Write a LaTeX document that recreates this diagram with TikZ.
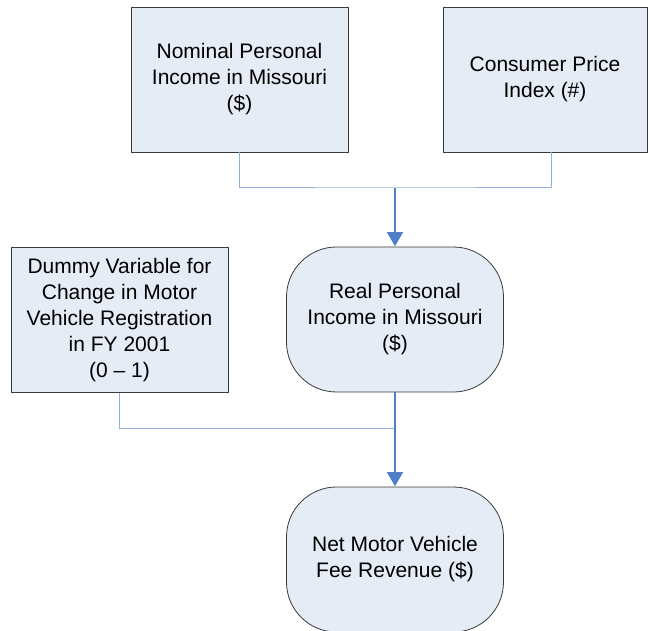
\documentclass[tikz,border=0pt]{standalone}
\usepackage{fontspec}
\setmainfont{Liberation Sans}
\usetikzlibrary{arrows.meta}
\definecolor{boxfill}{HTML}{E6ECF6}
\definecolor{boxline}{HTML}{3A3A3A}
\definecolor{feedline}{HTML}{8FB0DC}
\definecolor{flowline}{HTML}{4F7FC6}
\tikzset{
  txt/.style={font=\fontsize{21}{26}\selectfont, align=center, text=black},
  databox/.style={txt, draw=boxline, line width=0.8pt, fill=boxfill,
    minimum width=217pt, minimum height=145pt, inner sep=0pt},
  calcbox/.style={databox, rounded corners=50pt},
  feed/.style={draw=feedline, line width=1pt},
  flow/.style={draw=flowline, line width=1.2pt,
    -{Triangle[width=16pt,length=14pt]}, shorten >=0.4pt},
}
\begin{document}
\begin{tikzpicture}[x=1pt, y=-1pt]
\useasboundingbox (0,0) rectangle (648,631);

% input variables
\node[databox] (nominal) at (239.5,79.5) {Nominal Personal\\Income in Missouri\\(\$)};
\node[databox, minimum width=204pt] (cpi) at (545,79.5) {Consumer Price\\Index (\#)};
\node[databox] (dummy) at (119.5,320) {Dummy Variable for\\Change in Motor\\Vehicle Registration\\in FY 2001\\(0 -- 1)};

% derived quantities
\node[calcbox] (real) at (395,319.5) {Real Personal\\Income in Missouri\\(\$)};
\node[calcbox] (net) at (395,559.5) {Net Motor Vehicle\\Fee Revenue (\$)};

% junction points
\coordinate (j1) at (395,188);
\coordinate (j2) at (395,428);

% nominal income and CPI combine into real income
\draw[feed] (nominal.south) |- (j1) -| (cpi.south -| 551,0);
\draw[flow] (j1) -- (real.north);

% real income and dummy combine into fee revenue
\draw[feed] (dummy.south) |- (j2);
\draw[flow] (real.south) -- (net.north);
\end{tikzpicture}
\end{document}
